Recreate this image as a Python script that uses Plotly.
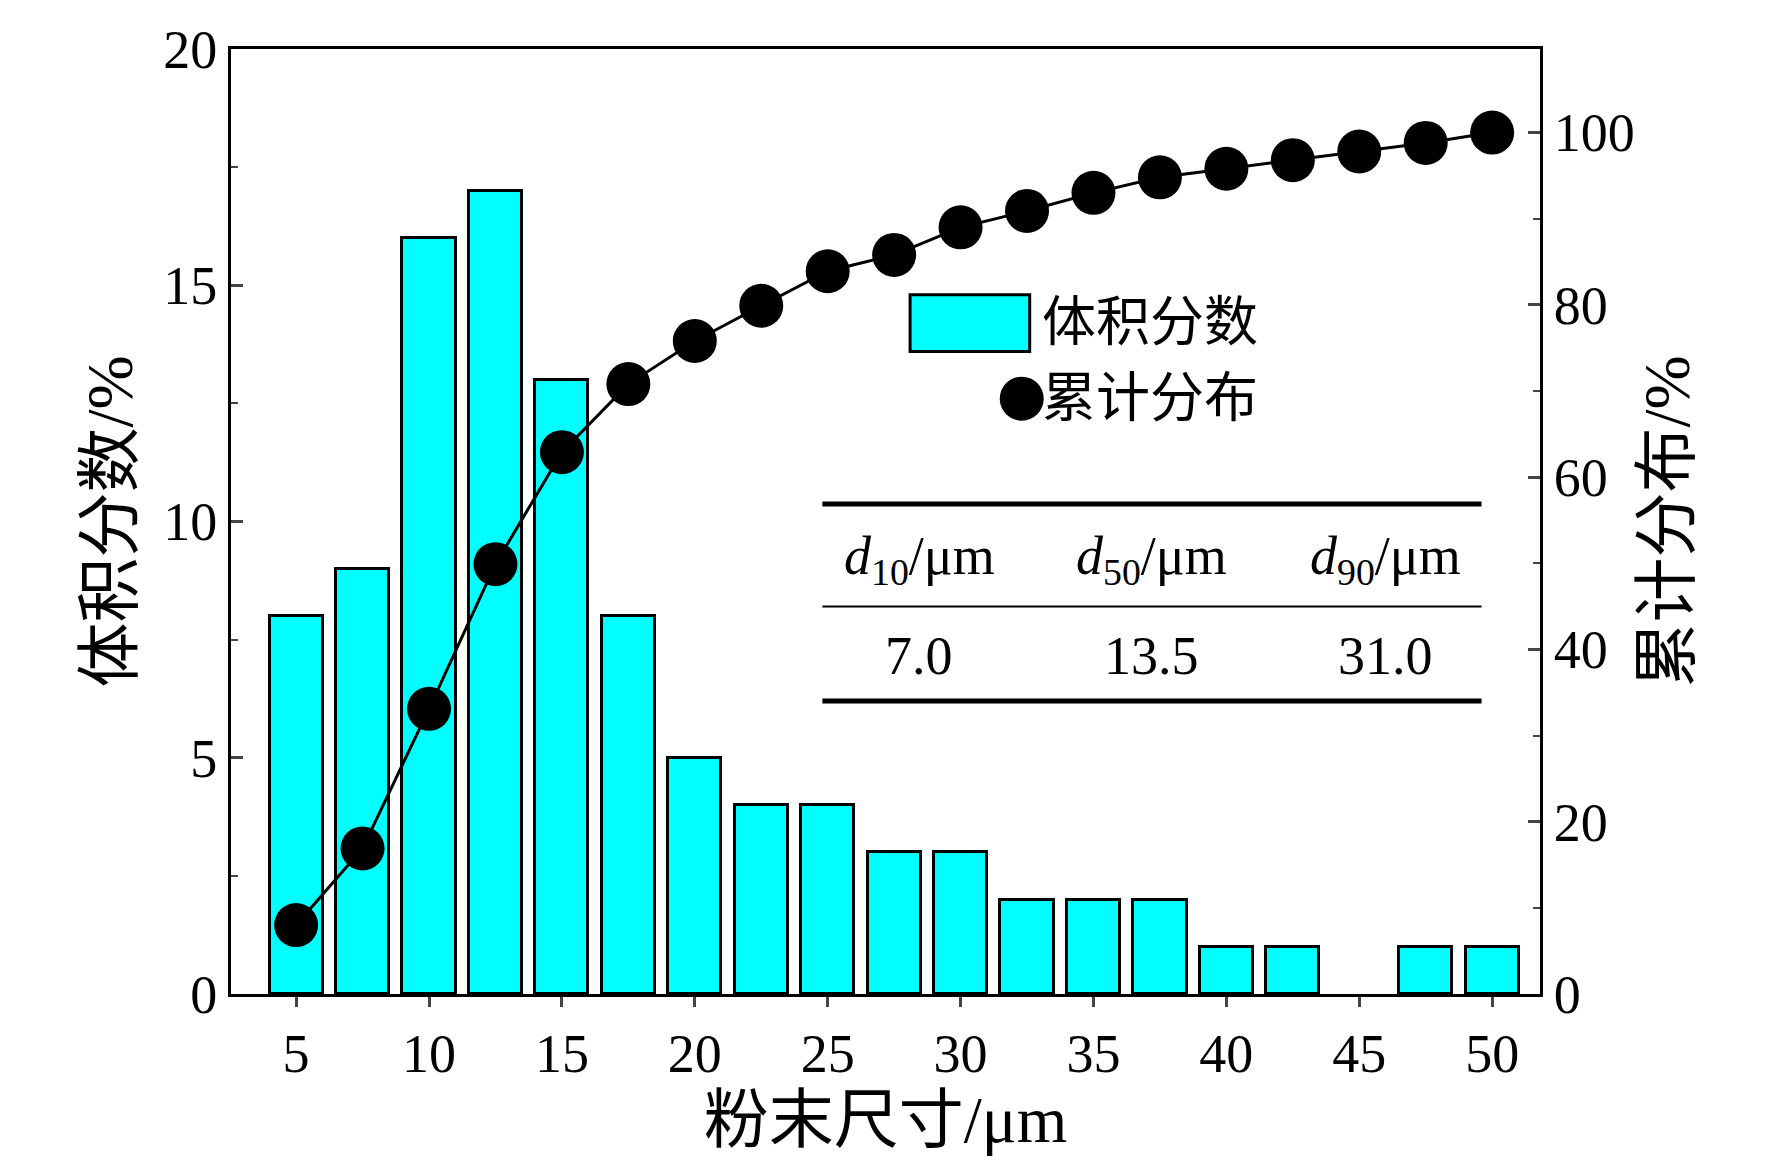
import plotly.graph_objects as go

sizes = [5, 7.5, 10, 12.5, 15, 17.5, 20, 22.5, 25, 27.5, 30, 32.5, 35, 37.5, 40, 42.5, 45, 47.5, 50]
volume = [8, 9, 16, 17, 13, 8, 5, 4, 4, 3, 3, 2, 2, 2, 1, 1, 0, 1, 1]
cumulative = [8.0, 16.9, 33.1, 49.9, 62.9, 70.8, 75.8, 79.9, 83.9, 85.8, 89.0, 90.9, 93.0, 94.8, 95.8, 96.8, 97.8, 98.8, 100.0]

font = "Liberation Serif, Times New Roman, Noto Sans CJK SC"
fs = 54

# empty bins are not drawn at all
bar_x = [s for s, v in zip(sizes, volume) if v > 0]
bar_y = [v for v in volume if v > 0]

fig = go.Figure()
fig.add_trace(go.Bar(x=bar_x, y=bar_y, width=2.0, name='体积分数', showlegend=False,
                     marker=dict(color='#00FFFF', line=dict(color='black', width=3))))
fig.add_trace(go.Scatter(x=sizes, y=cumulative, mode='lines+markers', name='累计分布', yaxis='y2',
                         showlegend=False, line=dict(color='black', width=3),
                         marker=dict(color='black', size=44)))

fig.update_layout(
    width=1772, height=1160, plot_bgcolor='white', paper_bgcolor='white',
    font=dict(family=font, size=fs, color='black'),
    margin=dict(l=223, r=240, t=34, b=174),
    xaxis=dict(range=[2.55, 51.8], tickvals=list(range(5, 51, 5)), ticks='outside', ticklen=10,
               tickwidth=3, showline=True, linewidth=3, linecolor='black', mirror=True,
               showgrid=False, title=dict(text='粉末尺寸/μm', standoff=5)),
    yaxis=dict(range=[0, 20], dtick=5, ticks='inside', ticklen=12, tickwidth=3,
               minor=dict(dtick=2.5, ticks='inside', ticklen=7, tickwidth=2),
               showline=True, linewidth=3, linecolor='black', showgrid=False, zeroline=False,
               title=dict(text='体积分数/%', standoff=10)),
    yaxis2=dict(range=[0, 109.7], tickvals=[0, 20, 40, 60, 80, 100], overlaying='y', side='right',
                ticks='inside', ticklen=12, tickwidth=3,
                minor=dict(tickvals=[10, 30, 50, 70, 90], ticks='inside', ticklen=7, tickwidth=2),
                showline=True, linewidth=3, linecolor='black', showgrid=False, zeroline=False,
                title=dict(text='累计分布/%', standoff=10)),
    bargap=0,
)

# hand-made legend, big symbols like the original
fig.add_shape(type='rect', xref='x', yref='y', x0=28.1, x1=32.6, y0=13.6, y1=14.8,
              fillcolor='#00FFFF', line=dict(color='black', width=3))
fig.add_trace(go.Scatter(x=[32.3], y=[12.6], mode='markers', showlegend=False, hoverinfo='skip',
                         marker=dict(color='black', size=44)))
fig.add_annotation(x=33.0, y=14.2, xref='x', yref='y', text='体积分数', showarrow=False,
                   xanchor='left', font=dict(size=fs))
fig.add_annotation(x=33.0, y=12.6, xref='x', yref='y', text='累计分布', showarrow=False,
                   xanchor='left', font=dict(size=fs))

# parameter table
for y0, w in [(10.37, 5), (8.2, 2), (6.2, 5)]:
    fig.add_shape(type='line', xref='x', yref='y', x0=24.8, x1=49.6, y0=y0, y1=y0,
                  line=dict(color='black', width=w))
for x, h, v in [(28.45, '<i>d</i><sub>10</sub>/μm', '7.0'),
                (37.2, '<i>d</i><sub>50</sub>/μm', '13.5'),
                (46.0, '<i>d</i><sub>90</sub>/μm', '31.0')]:
    fig.add_annotation(x=x, y=9.2, xref='x', yref='y', text=h, showarrow=False,
                       xanchor='center', font=dict(size=fs))
    fig.add_annotation(x=x, y=7.15, xref='x', yref='y', text=v, showarrow=False,
                       xanchor='center', font=dict(size=fs))

fig.write_html("out.html")
